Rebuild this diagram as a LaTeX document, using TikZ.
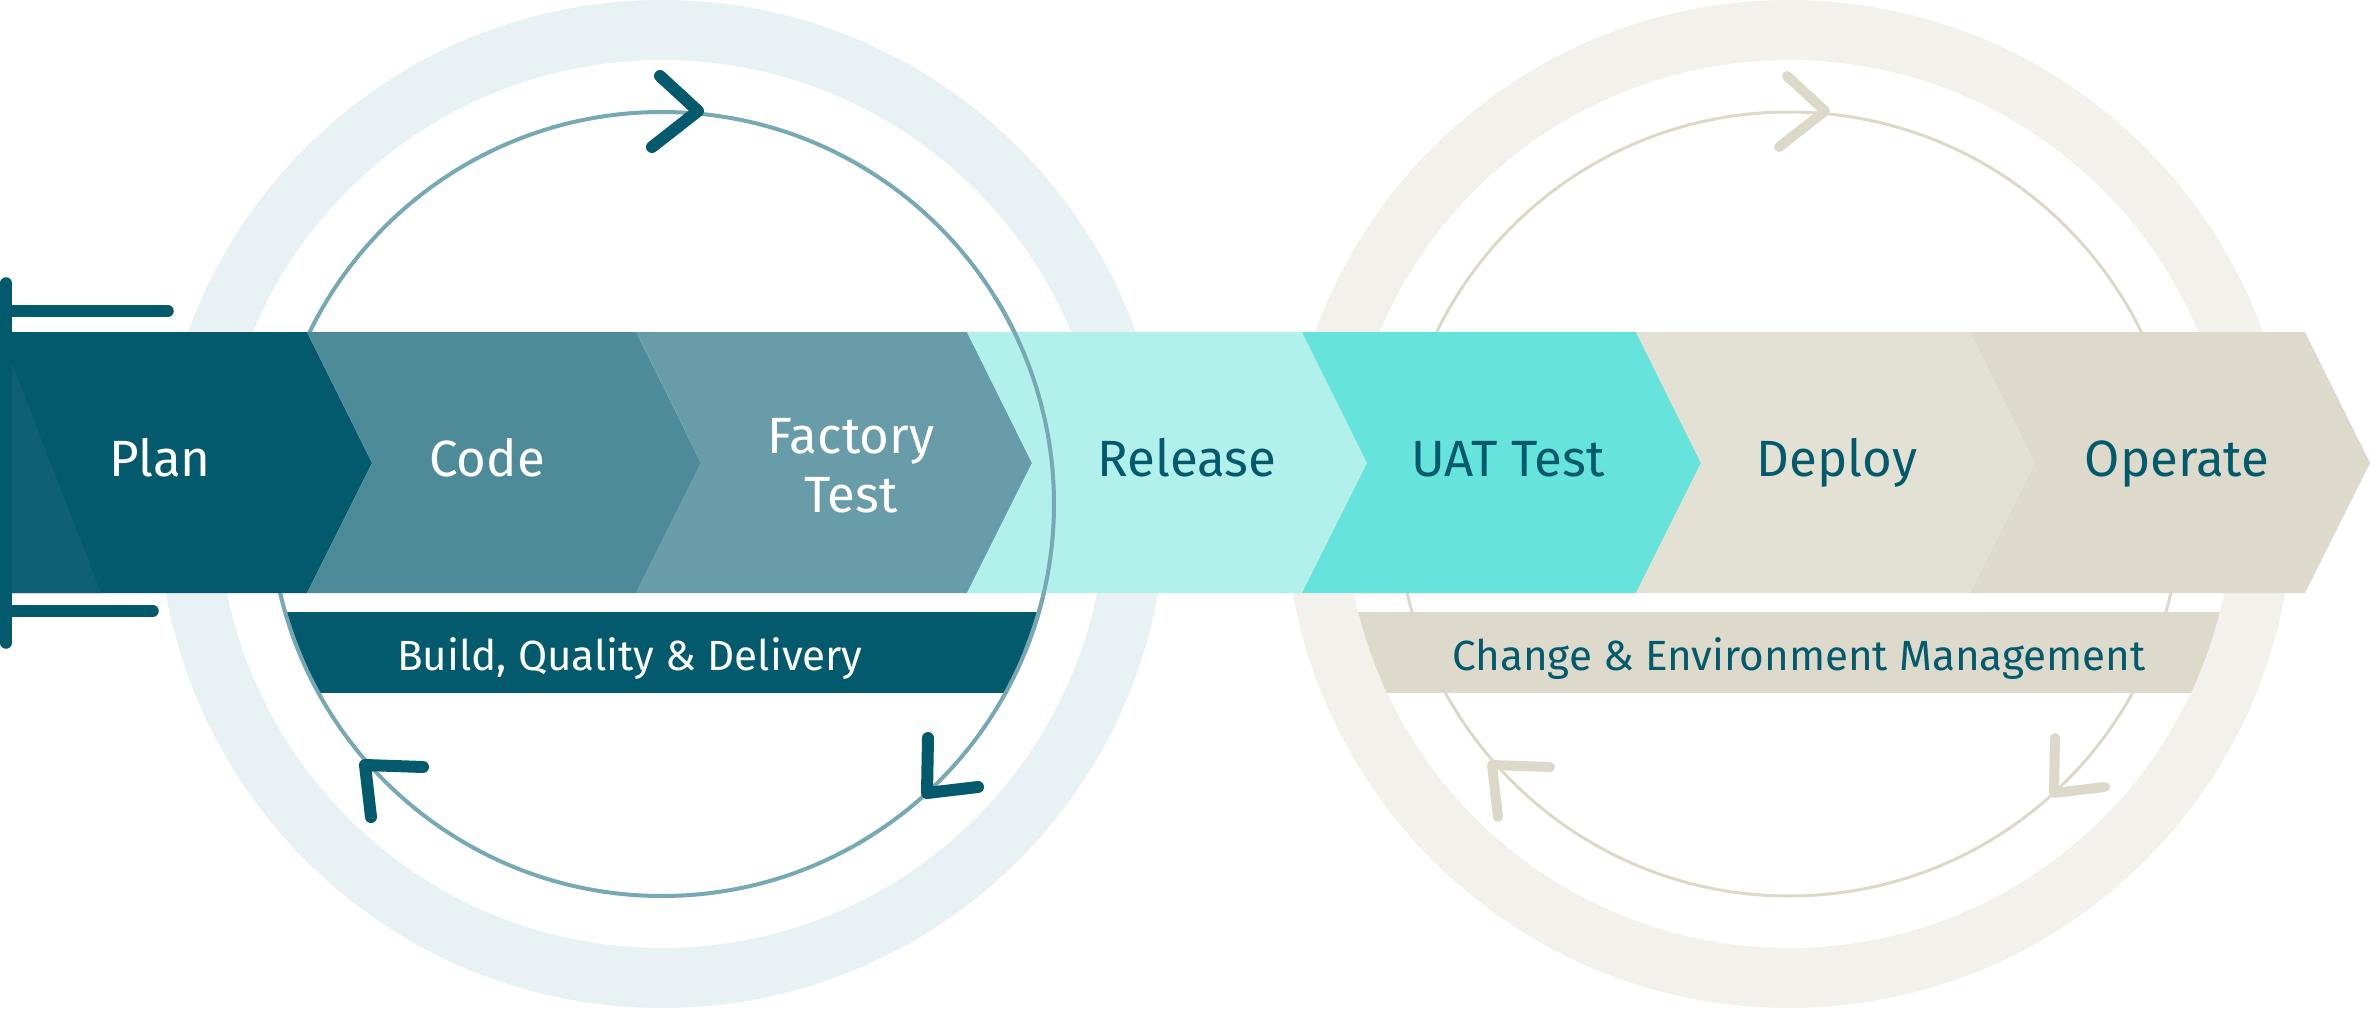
\documentclass[tikz,border=0pt]{standalone}
\usepackage{fontspec}
\setmainfont{Fira Sans}
\usetikzlibrary{positioning}
\definecolor{deepteal}{HTML}{025A6C}
\definecolor{codeteal}{HTML}{4E8B99}
\definecolor{factteal}{HTML}{679CA8}
\definecolor{relaqua}{HTML}{B2F0EC}
\definecolor{uataqua}{HTML}{66E3DB}
\definecolor{depsand}{HTML}{E3E0D4}
\definecolor{opsand}{HTML}{DDD9CB}
\definecolor{planshade}{HTML}{0E6175}
\definecolor{ringteal}{HTML}{E8F1F3}
\definecolor{ringsand}{HTML}{F2F1EC}
\definecolor{thinteal}{HTML}{76A9B4}
\definecolor{thinsand}{HTML}{DDD9C9}
\tikzset{
  stagelabel/.style={
    anchor=base, inner sep=0pt, align=center,
    font=\fontsize{14.5}{16.8}\selectfont,
  },
  bandlabel/.style={
    anchor=base, inner sep=0pt,
    font=\fontsize{12}{14}\selectfont,
  },
  bigring/.style={line width=0.6cm},
  cyclearrow/.style={line width=0.12cm, line cap=round, line join=round},
  bracketbar/.style={deepteal, line width=0.115cm, line cap=round},
}
\begin{document}
\begin{tikzpicture}[x=0.01cm,y=-0.01cm]
  \useasboundingbox (0,0) rectangle (2371,1009);
  % outer rings and thin circles
  \draw[bigring,ringteal] (662,504) circle (474);
  \draw[bigring,ringsand] (1789,504) circle (474);
  \draw[thinteal,line width=0.04cm] (662,504) circle (392);
  \draw[thinsand,line width=0.03cm] (1789,504) circle (392);

  % stage chevrons
  \fill[deepteal] (6,332)--(307,332)--(372,463)--(307,593)--(6,593)--cycle;
  \fill[planshade] (6,348)--(101,593)--(6,593)--cycle;
  \fill[codeteal] (307,332)--(636,332)--(701,463)--(636,593)--(307,593)--(372,463)--cycle;
  \fill[factteal] (636,332)--(967,332)--(1032,463)--(967,593)--(636,593)--(701,463)--cycle;
  \fill[relaqua] (967,332)--(1302,332)--(1367,463)--(1302,593)--(967,593)--(1032,463)--cycle;
  \fill[uataqua] (1302,332)--(1636,332)--(1701,463)--(1636,593)--(1302,593)--(1367,463)--cycle;
  \fill[depsand] (1636,332)--(1970,332)--(2035,463)--(1970,593)--(1636,593)--(1701,463)--cycle;
  \fill[opsand] (1970,332)--(2305,332)--(2370,463)--(2305,593)--(1970,593)--(2035,463)--cycle;

  % bands under the stages
  \begin{scope}
    \clip (662,504) circle (390);
    \fill[deepteal] (0,612) rectangle (1400,693);
  \end{scope}
  \begin{scope}
    \clip (1789,504) circle (444);
    \fill[opsand] (1200,612) rectangle (2371,693);
  \end{scope}
  \draw[thinteal,line width=0.04cm] (662,504) ++(-32:392) arc (-32:22:392);

  % cycle arrows
  \draw[cyclearrow,deepteal] (660,76)--(698,111)--(652,147);
  \draw[cyclearrow,deepteal] (423,767)--(365,765)--(371,817);
  \draw[cyclearrow,deepteal] (928,738)--(927,793)--(978,787);
  \draw[cyclearrow,thinsand,line width=0.1cm] (1787,76)--(1825,111)--(1779,147);
  \draw[cyclearrow,thinsand,line width=0.1cm] (1550,767)--(1492,765)--(1498,817);
  \draw[cyclearrow,thinsand,line width=0.1cm] (2055,738)--(2054,793)--(2105,787);

  % start bracket
  \draw[bracketbar] (6,283)--(6,643);
  \draw[bracketbar] (6,311)--(168,311);
  \draw[bracketbar] (6,611)--(153,611);

  % labels
  \node[stagelabel,white] (plan) at (160,476) {Plan};
  \node[stagelabel,white] (code) at (487,476) {Code};
  \node[stagelabel,white,anchor=center] (factory) at (851,466) {Factory\\Test};
  \node[stagelabel,deepteal] (release) at (1187,476) {Release};
  \node[stagelabel,deepteal] (uat) at (1508,476) {UAT Test};
  \node[stagelabel,deepteal] (deploy) at (1837,476) {Deploy};
  \node[stagelabel,deepteal] (operate) at (2177,476) {Operate};
  \node[bandlabel,white] (build) at (630,670) {Build, Quality \& Delivery};
  \node[bandlabel,deepteal] (change) at (1799,670) {Change \& Environment Management};
\end{tikzpicture}
\end{document}
